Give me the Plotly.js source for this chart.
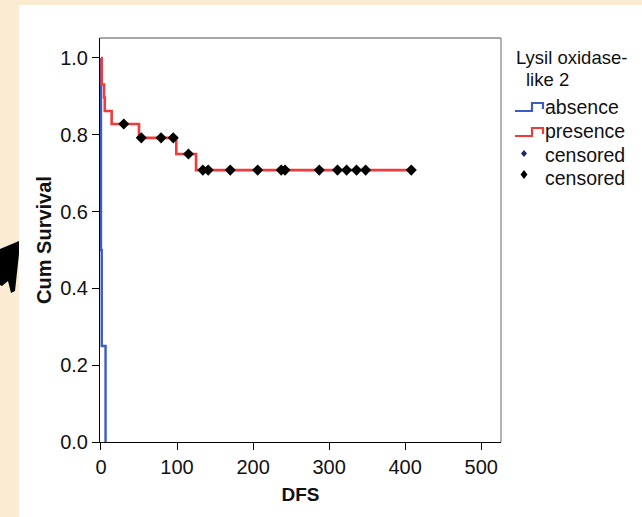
<!DOCTYPE html>
<html>
<head>
<meta charset="utf-8">
<script src="https://cdn.plot.ly/plotly-3.0.1.min.js"></script>
<style>
  html, body { margin: 0; padding: 0; background: #fcebd3; }
  #chart { width: 642px; height: 517px; }
</style>
</head>
<body>
<div id="chart"></div>
<script>
// Kaplan-Meier disease-free survival by Lysil oxidase-like 2 status

// absence group: step times and survival after each step
const absenceTimes = [0, 0, 1, 6];
const absenceSurv  = [1.0, 0.5, 0.25, 0.0];

// presence group: step times and survival after each step (last point = end of follow-up)
const presenceTimes = [0, 1, 4, 5, 14, 50, 99, 125, 408];
const presenceSurv  = [1.0, 0.931, 0.897, 0.862, 0.828, 0.792, 0.750, 0.708, 0.708];

// censored observations in the presence group
const censorTimes = [30, 53, 79, 95, 115, 134, 141, 170, 206, 237, 242, 287, 311, 323, 336, 348, 408];
const censorSurv  = [0.828, 0.792, 0.792, 0.792, 0.750, 0.708, 0.708, 0.708, 0.708, 0.708, 0.708, 0.708, 0.708, 0.708, 0.708, 0.708, 0.708];

// axis ticks
const xTicks = [0, 100, 200, 300, 400, 500];
const yTicks = [0.0, 0.2, 0.4, 0.6, 0.8, 1.0];

const legendTitle = ["Lysil oxidase-", "like 2"];
const legendLabels = ["absence", "presence", "censored", "censored"];

const BLUE = "#3b5cc4";
const RED = "#f23a3a";
const FONT = "Liberation Sans, Arial, sans-serif";

// plot area in pixels: left 100, right 501, top 38, bottom 442
const PX = x => (x - 100) / 401;
const PY = y => (442 - y) / 404;

const traces = [
  {
    x: absenceTimes, y: absenceSurv, type: "scatter", mode: "lines",
    line: { shape: "hv", color: BLUE, width: 2.4 }, showlegend: false, hoverinfo: "skip"
  },
  {
    x: presenceTimes, y: presenceSurv, type: "scatter", mode: "lines",
    line: { shape: "hv", color: RED, width: 2.6 }, showlegend: false, hoverinfo: "skip"
  },
  {
    x: censorTimes, y: censorSurv, type: "scatter", mode: "markers",
    marker: { symbol: "diamond", size: 8.5, color: "#000" }, showlegend: false, hoverinfo: "skip"
  }
];

const shapes = [
  // arrow head at the far left
  {
    type: "path", xref: "paper", yref: "paper", layer: "below",
    path: `M ${PX(0)} ${PY(249)} L ${PX(19)} ${PY(241)} L ${PX(19)} ${PY(254)} L ${PX(15)} ${PY(291)} L ${PX(11)} ${PY(293)} L ${PX(8)} ${PY(281)} L ${PX(2)} ${PY(286)} L ${PX(0)} ${PY(285)} Z`,
    fillcolor: "#000", line: { width: 0 }
  },
  // white panel
  {
    type: "rect", xref: "paper", yref: "paper", layer: "below",
    x0: PX(19), x1: PX(660), y0: PY(530), y1: PY(5),
    fillcolor: "#fff", line: { width: 0 }
  },
  // grey frame top and right
  { type: "line", xref: "paper", yref: "paper", x0: 0, x1: 1, y0: 1, y1: 1, line: { color: "#8a8a8a", width: 1.3 } },
  { type: "line", xref: "paper", yref: "paper", x0: 1, x1: 1, y0: 0, y1: 1, line: { color: "#8a8a8a", width: 1.3 } },
  // legend step icons
  {
    type: "path", xref: "paper", yref: "paper",
    path: `M ${PX(515)} ${PY(111)} L ${PX(532)} ${PY(111)} L ${PX(532)} ${PY(103)} L ${PX(543)} ${PY(103)} L ${PX(543)} ${PY(109)}`,
    line: { color: BLUE, width: 2.2 }
  },
  {
    type: "path", xref: "paper", yref: "paper",
    path: `M ${PX(515)} ${PY(136)} L ${PX(532)} ${PY(136)} L ${PX(532)} ${PY(128)} L ${PX(543)} ${PY(128)} L ${PX(543)} ${PY(134)}`,
    line: { color: RED, width: 2.2 }
  },
  // legend censored marks
  {
    type: "path", xref: "paper", yref: "paper",
    path: `M ${PX(524)} ${PY(150)} L ${PX(527)} ${PY(153.5)} L ${PX(524)} ${PY(157)} L ${PX(521)} ${PY(153.5)} Z`,
    fillcolor: "#1a2a6a", line: { width: 0 }
  },
  {
    type: "path", xref: "paper", yref: "paper",
    path: `M ${PX(524)} ${PY(170)} L ${PX(527.5)} ${PY(174.5)} L ${PX(524)} ${PY(179)} L ${PX(520.5)} ${PY(174.5)} Z`,
    fillcolor: "#000", line: { width: 0 }
  }
];

const legendY = [107, 131, 155, 178];
const titleFont = { family: FONT, size: 18.5, color: "#111" };
const annotations = [
  { text: legendTitle[0], x: PX(571), y: PY(57.5), xanchor: "center", yanchor: "middle", font: titleFont },
  { text: legendTitle[1], x: PX(547), y: PY(79), xanchor: "center", yanchor: "middle", font: titleFont }
].concat(legendLabels.map((t, i) => ({ text: t, x: PX(543), y: PY(legendY[i]), xanchor: "left", yanchor: "middle" })))
 .map(a => Object.assign({ xref: "paper", yref: "paper", showarrow: false, font: { family: FONT, size: 19.5, color: "#111" } }, a));

const layout = {
  width: 642, height: 517,
  margin: { l: 100, r: 141, t: 38, b: 75, pad: 0 },
  paper_bgcolor: "#fcebd3",
  plot_bgcolor: "#fff",
  showlegend: false,
  xaxis: {
    range: [-1.3, 526], tickvals: xTicks, ticks: "outside", ticklen: 7, tickcolor: "#000",
    showline: true, linecolor: "#000", linewidth: 1, showgrid: false, zeroline: false,
    tickfont: { family: FONT, size: 20, color: "#111" },
    title: { text: "DFS", standoff: 10, font: { family: FONT, size: 19, color: "#111", weight: "bold" } }
  },
  yaxis: {
    range: [0, 1.052], tickvals: yTicks, tickformat: ".1f", ticks: "outside", ticklen: 7, tickcolor: "#000",
    showline: true, linecolor: "#000", linewidth: 1, showgrid: false, zeroline: false,
    tickfont: { family: FONT, size: 20, color: "#111" },
    title: { text: "Cum Survival", standoff: 3, font: { family: FONT, size: 20, color: "#111", weight: "bold" } }
  },
  shapes: shapes,
  annotations: annotations
};

Plotly.newPlot("chart", traces, layout, { staticPlot: true });
</script>
</body>
</html>
